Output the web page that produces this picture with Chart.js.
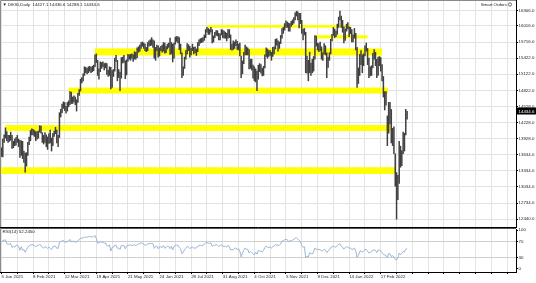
<!DOCTYPE html>
<html><head><meta charset="utf-8">
<script src="https://cdn.jsdelivr.net/npm/chart.js@4.4.1/dist/chart.umd.min.js"></script>
<style>
html,body{margin:0;padding:0;background:#fff;width:536px;height:283px;overflow:hidden}
canvas{position:absolute;left:0}
#main{top:0}
#rsi{top:228px}
</style></head><body>
<canvas id="main" width="536" height="228"></canvas>
<canvas id="rsi" width="536" height="55"></canvas>
<script>
// ---------------- data ----------------
const symbolTitle = "DE30,Daily";
const lastOHLC = [14427.1, 14436.6, 14288.1, 14434.6];

// daily lows / highs, 5 Jan 2021 .. 17 Mar 2022 (bar index 0..308)
const lows = [
13600,13590,13860,13940,13890,13860,13880,13900,13750,13760,
13800,13810,13860,13780,13580,13620,13560,13490,13310,13420,
13620,13820,13890,14000,14000,13970,13890,13920,13940,14050,
14030,13860,13830,13860,13780,13730,13840,13850,13700,13800,
13970,14020,13850,13780,13950,14330,14410,14490,14450,14400,
14440,14520,14560,14580,14580,14610,14560,14440,14600,14730,
14810,14960,15000,15100,15150,15130,15150,15180,15150,15170,
15190,15260,15340,15100,15030,15170,15230,15260,15200,15240,
15120,15080,15100,14850,14880,15080,15180,15360,15000,15060,
14820,15050,15330,15340,15040,15110,15360,15400,15380,15420,
15360,15400,15400,15430,15530,15550,15600,15640,15600,15560,
15540,15560,15640,15650,15660,15620,15420,15380,15560,15440,
15460,15560,15530,15550,15510,15520,15590,15620,15490,15500,
15350,15420,15680,15730,15700,15580,15500,15060,15100,15230,
15400,15500,15560,15440,15480,15560,15500,15520,15470,15540,
15650,15700,15710,15720,15750,15800,15900,15860,15860,15900,
15700,15720,15800,15840,15830,15760,15760,15850,15800,15790,
15790,15740,15790,15800,15580,15570,15580,15600,15650,15580,
15570,15460,15060,15130,15320,15480,15480,15480,15220,15230,
15200,15050,15000,14980,14820,15030,15170,15140,15090,15100,
15240,15450,15420,15450,15470,15380,15450,15500,15590,15660,
15550,15600,15690,15790,15880,15940,15990,15990,15920,15920,
16010,16040,16070,16130,16200,16130,15980,16060,15880,15760,
15850,15150,15140,15000,15150,15100,15150,15180,15400,15640,
15570,15540,15560,15400,15380,15500,15480,15060,15250,15380,
15500,15740,15840,15800,15820,15860,15990,16130,15990,15900,
15700,15750,15920,15960,15820,15870,15720,15720,15790,15570,
14880,14950,15100,15300,15150,15280,15460,15550,15300,15060,
15090,15100,15240,15400,15280,15060,15100,15280,15180,15000,
14700,14460,14550,13800,14030,14200,13850,13800,13650,13050,
12438,12800,13100,13400,13430,13650,13700,14000,14288.1
];
const highs = [
13760,13920,14000,14130,14060,13990,13990,14050,13990,13880,
13920,13950,13990,13920,13900,13890,13880,13700,13660,13670,
13860,13960,14080,14110,14100,14080,14060,14060,14070,14170,
14160,14040,13990,14040,14000,13960,14020,14090,13940,14030,
14070,14140,14090,13990,14410,14470,14570,14610,14600,14530,
14600,14630,14800,14790,14700,14720,14700,14650,14770,14840,
15030,15060,15130,15260,15250,15230,15260,15270,15250,15270,
15290,15480,15500,15380,15220,15350,15340,15350,15320,15330,
15320,15200,15260,15250,15190,15210,15420,15470,15380,15210,
15160,15430,15440,15470,15370,15390,15490,15480,15490,15500,
15480,15540,15530,15610,15630,15660,15710,15720,15700,15680,
15620,15710,15740,15760,15800,15760,15740,15620,15660,15650,
15610,15640,15660,15710,15700,15640,15680,15700,15790,15710,
15680,15700,15810,15820,15820,15800,15680,15520,15260,15440,
15560,15690,15670,15640,15600,15680,15620,15630,15590,15710,
15760,15780,15790,15800,15850,15950,15990,15970,15950,15990,
15950,15830,15900,15930,15930,15880,15870,15950,15940,15920,
15900,15880,15950,15950,15850,15680,15740,15720,15760,15730,
15680,15700,15460,15370,15530,15660,15630,15610,15580,15400,
15400,15290,15260,15220,15180,15290,15320,15300,15230,15270,
15480,15610,15590,15560,15560,15530,15620,15630,15770,15780,
15740,15720,15840,15970,15990,16060,16110,16090,16070,16060,
16100,16130,16170,16260,16290,16280,16250,16250,16120,15960,
15970,15900,15460,15380,15530,15330,15400,15450,15840,15830,
15700,15690,15720,15630,15520,15690,15650,15520,15440,15520,
15770,15860,15990,15960,15920,16050,16180,16290,16200,16120,
16000,15960,16050,16080,16000,15990,15950,15850,15970,15880,
15620,15240,15490,15560,15480,15500,15650,15700,15600,15420,
15260,15280,15510,15580,15530,15400,15440,15450,15430,15300,
15080,14800,14800,14350,14600,14600,14470,14120,14150,13650,
13300,13250,13880,13790,13710,14050,14030,14470,14436.6
];
// RSI(14) per bar
const rsiValues = [
70,73,74,75,65,63,64,65,55,58,
56,61,60,58,48,57,48,50,43,50,
56,59,62,62,62,60,57,60,61,63,
61,55,54,57,56,53,56,53,50,57,
58,59,53,53,68,70,72,73,70,68,
71,72,76,70,71,71,69,69,73,75,
79,79,80,82,81,82,83,83,83,82,
83,86,78,66,67,70,68,69,66,67,
60,59,62,46,55,56,61,61,53,54,
50,61,60,60,52,59,61,61,62,61,
60,63,59,63,64,65,67,66,64,61,
61,65,64,66,65,65,53,58,59,52,
57,57,55,60,53,56,58,58,52,58,
49,58,61,61,61,55,52,39,42,50,
53,58,56,53,54,57,53,54,54,59,
60,61,60,61,63,67,68,66,66,67,
58,60,61,63,61,58,60,63,58,58,
58,56,61,57,49,50,49,53,54,50,
52,46,31,41,48,54,50,51,41,45,
42,39,36,43,38,47,46,46,44,48,
55,59,55,56,56,54,57,59,63,61,
61,61,64,72,72,75,76,75,70,72,
73,74,76,79,80,77,73,70,59,56,
57,29,33,31,42,40,38,44,54,51,
50,50,50,46,47,51,48,42,47,49,
55,57,59,56,57,60,63,65,58,56,
51,55,57,57,53,54,50,51,54,46,
30,35,45,47,43,47,50,50,45,41,
43,44,49,49,48,42,49,48,46,42,
37,36,35,29,40,39,32,34,31,25,
23,28,41,37,40,45,44,51,52.245
];
const rsiLevels = [30, 70];
const rsiTicks = [0, 30, 70, 100];
const priceTicks = [16306.0,16016.0,15716.0,15422.0,15122.0,14822.0,14528.0,14228.0,13928.0,13634.0,13334.0,13034.0,12734.0,12440.0];
const dateTickLabels = ["5 Jan 2021","8 Feb 2021","12 Mar 2021","19 Apr 2021","21 May 2021","24 Jun 2021","28 Jul 2021","31 Aug 2021","4 Oct 2021","5 Nov 2021","9 Dec 2021","14 Jan 2022","17 Feb 2022"];
const barsPerDateLabel = 24;
const barsPerGrid = 12;
// support / resistance zones (bar index range, price range)
const zoneStart = [156, 238, 71, 51, 3, -2];
const zoneEnd   = [265, 278, 289, 293.5, 296.5, 299];
const zoneLow   = [15985, 15785, 15470, 14765, 14070, 13275];
const zoneHigh  = [16035, 15845, 15600, 14875, 14180, 13400];

// ---------------- rendering ----------------
const X_MIN = -1.14, X_MAX = 390.7;
const gridColor = '#e3e3e3';
const FONT = {family: "'Liberation Sans', Arial, sans-serif", size: 4.4};
const fontStr = "4.4px 'Liberation Sans', Arial, sans-serif";

function xGridTicks(scale){
  const t = [];
  for (let v = 0; v <= X_MAX; v += barsPerGrid) t.push({value: v});
  scale.ticks = t;
}

const zonesPlugin = {
  id: 'zones',
  beforeDatasetsDraw(chart){
    const {ctx, chartArea: a, scales: {x, y}} = chart;
    ctx.save();
    ctx.beginPath(); ctx.rect(a.left, a.top, a.width, a.height); ctx.clip();
    ctx.fillStyle = '#ffff00';
    zoneStart.forEach((s, k) => {
      const x0 = x.getPixelForValue(s), x1 = x.getPixelForValue(zoneEnd[k]);
      const y0 = y.getPixelForValue(zoneHigh[k]), y1 = y.getPixelForValue(zoneLow[k]);
      ctx.fillRect(x0, y0, x1 - x0, y1 - y0);
    });
    ctx.restore();
  }
};

const mainDecor = {
  id: 'mainDecor',
  afterDraw(chart){
    const {ctx, chartArea: a, scales: {y}} = chart;
    ctx.save();
    ctx.strokeStyle = '#8a8a8a'; ctx.lineWidth = 1;
    ctx.beginPath(); ctx.moveTo(0.5, a.bottom); ctx.lineTo(0.5, 0.5); ctx.lineTo(a.right, 0.5); ctx.stroke();
    ctx.font = fontStr; ctx.textBaseline = 'middle';
    ctx.fillStyle = '#222'; ctx.textAlign = 'left';
    ctx.fillText('\u25BC ' + symbolTitle + '  ' + lastOHLC.map(v => v.toFixed(1)).join(' '), 2.5, 5);
    ctx.textAlign = 'right';
    ctx.fillText('Smart Orders', 507, 4.5);
    ctx.beginPath(); ctx.arc(510, 4.5, 1.6, 0, Math.PI * 2); ctx.strokeStyle = '#666'; ctx.stroke();
    const yp = y.getPixelForValue(lastOHLC[3]);
    ctx.fillStyle = '#000';
    ctx.fillRect(517, Math.round(yp) - 3.5, 19, 7);
    ctx.fillStyle = '#fff'; ctx.textAlign = 'left';
    ctx.fillText(lastOHLC[3].toFixed(1), 518.5, yp);
    ctx.restore();
  }
};

new Chart(document.getElementById('main'), {
  type: 'bar',
  data: {
    datasets: [{
      data: lows.map((l, i) => ({x: i, y: [l, highs[i]]})),
      backgroundColor: '#404040',
      borderWidth: 0,
      barThickness: 0.85
    }]
  },
  options: {
    responsive: false, animation: false, devicePixelRatio: 1, events: [],
    layout: {padding: 0},
    plugins: {legend: {display: false}, tooltip: {enabled: false}},
    scales: {
      x: {
        type: 'linear', min: X_MIN, max: X_MAX, offset: false,
        afterBuildTicks: xGridTicks,
        ticks: {display: false},
        grid: {color: gridColor, drawTicks: false, offset: false},
        border: {display: true, color: '#000'},
        afterFit(s){ s.height = 1; s.paddingLeft = 0; s.paddingRight = 0; }
      },
      y: {
        position: 'right', min: 12293, max: 16497,
        afterBuildTicks(s){ s.ticks = priceTicks.map(v => ({value: v})); },
        ticks: {font: FONT, color: '#222', padding: 0.5, autoSkip: false, callback: v => Number(v).toFixed(1)},
        grid: {color: gridColor, tickColor: '#000', tickLength: 2},
        border: {color: '#000'},
        afterFit(s){ s.width = 20; s.paddingTop = 0; s.paddingBottom = 0; }
      }
    }
  },
  plugins: [zonesPlugin, mainDecor]
});

const rsiDecor = {
  id: 'rsiDecor',
  afterDraw(chart){
    const {ctx, chartArea: a} = chart;
    ctx.save();
    ctx.strokeStyle = '#555'; ctx.lineWidth = 1;
    ctx.beginPath(); ctx.moveTo(0, 0.5); ctx.lineTo(a.right, 0.5); ctx.stroke();
    ctx.strokeStyle = '#8a8a8a';
    ctx.beginPath(); ctx.moveTo(0.5, 0); ctx.lineTo(0.5, a.bottom); ctx.stroke();
    ctx.font = fontStr; ctx.textBaseline = 'middle'; ctx.textAlign = 'left'; ctx.fillStyle = '#222';
    ctx.fillText('RSI(14) ' + rsiValues[rsiValues.length - 1].toFixed(4), 2.5, 4);
    ctx.restore();
  }
};

new Chart(document.getElementById('rsi'), {
  type: 'line',
  data: {
    datasets: [{
      data: rsiValues.map((v, i) => ({x: i, y: v})),
      borderColor: '#8fb0d2', borderWidth: 0.9, pointRadius: 0, tension: 0, fill: false
    }]
  },
  options: {
    responsive: false, animation: false, devicePixelRatio: 1, events: [],
    layout: {padding: {top: 1, left: 0, right: 0, bottom: 0}},
    plugins: {legend: {display: false}, tooltip: {enabled: false}},
    scales: {
      x: {
        type: 'linear', min: X_MIN, max: X_MAX, offset: false,
        afterBuildTicks: xGridTicks,
        ticks: {font: FONT, color: '#222', align: 'start', padding: 0.5, maxRotation: 0, autoSkip: false,
          callback: v => (v % barsPerDateLabel === 0 && v / barsPerDateLabel < dateTickLabels.length) ? dateTickLabels[v / barsPerDateLabel] : ''},
        grid: {color: gridColor, tickColor: '#000', tickLength: 2, offset: false},
        border: {color: '#000'},
        afterFit(s){ s.height = 11; s.paddingLeft = 0; s.paddingRight = 0; }
      },
      y: {
        position: 'right', min: -7.7, max: 102.6,
        afterBuildTicks(s){ s.ticks = rsiTicks.map(v => ({value: v})); },
        ticks: {font: FONT, color: '#222', padding: 0.5, autoSkip: false},
        grid: {color: c => (c.tick && rsiLevels.includes(c.tick.value)) ? '#cfcfcf' : 'rgba(0,0,0,0)', tickColor: '#000', tickLength: 2},
        border: {color: '#000'},
        afterFit(s){ s.width = 20; s.paddingTop = 0; s.paddingBottom = 0; }
      }
    }
  },
  plugins: [rsiDecor]
});
</script>
</body></html>
